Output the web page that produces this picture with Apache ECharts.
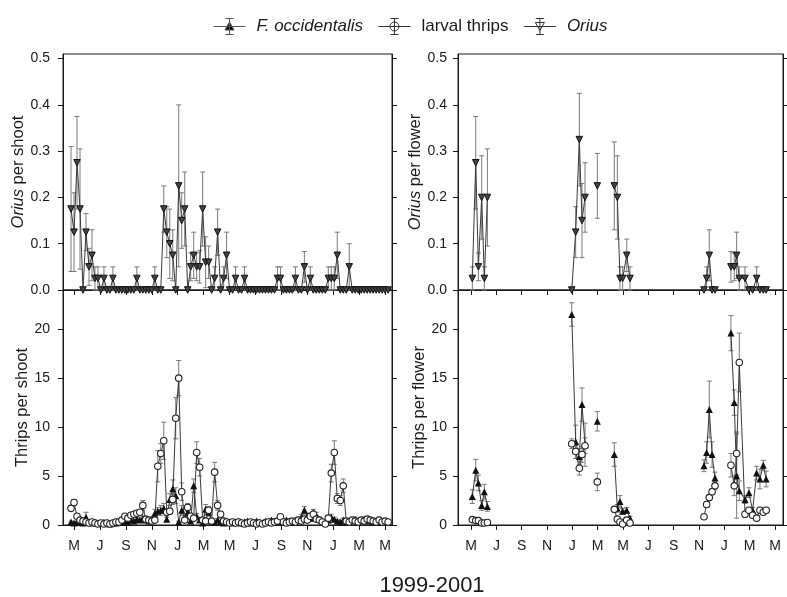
<!DOCTYPE html>
<html><head><meta charset="utf-8">
<script src="https://cdn.jsdelivr.net/npm/echarts@6/dist/echarts.min.js"></script>
<style>html,body{margin:0;padding:0;background:#fff}#c{width:787px;height:597px}</style>
</head><body><div id="c"></div>
<script>
// ---------- axis ticks ----------
const monthTicks = [0,2,4,6,8,10,12,14,16,18,20,22,24];           // months after May 1999
const monthLabels = ['M','J','S','N','J','M','M','J','S','N','J','M','M'];
const oriusTicks = [0,0.1,0.2,0.3,0.4,0.5];
const thripsTicks = [0,5,10,15,20];
const xTitle = '1999-2001';

// ---------- per-shoot data: weekly samples, first sample just before May 1999 ----------
const shootFirstMonth = -0.23;
const shootWeekMonths = 12/52;
const oriusShoot = [0.175,0.125,0.275,0.175,0,0.125,0.05,0.075,0.025,0.025,
 0,0.025,0,0,0.025,0,0,0,0,0,
 0,0,0.025,0,0,0,0,0,0.025,0,
 0,0.175,0.125,0.1,0.075,0,0.225,0.15,0.175,0,
 0.05,0.075,0.05,0.05,0.175,0.06,0.06,0,0.025,0.125,
 0,0.025,0.075,0,0,0.025,0,0,0.025,0,
 0,0,0,0,0,0,0,0,0,0.025,
 0.025,0,0,0,0,0.025,0,0,0.05,0,
 0.025,0,0,0,0,0,0.025,0.025,0.025,0.075,
 0,0,0,0.05,0,0,0,0,0,0,
 0,0,0,0,0,0,0];
const oriusShootErr = [0.135,0.085,0.1,0.13,0,0.04,0.04,0.055,0.025,0.025,
 0,0.025,0,0,0.025,0,0,0,0,0,
 0,0,0.025,0,0,0,0,0,0.025,0,
 0,0.05,0.055,0.075,0.055,0,0.175,0.06,0.08,0,
 0.03,0.05,0.03,0.035,0.08,0.055,0.035,0,0.025,0.05,
 0,0.025,0.05,0,0,0.025,0,0,0.025,0,
 0,0,0,0,0,0,0,0,0,0.025,
 0.025,0,0,0,0,0.025,0,0,0.033,0,
 0.025,0,0,0,0,0,0.025,0.025,0.025,0.05,
 0,0,0,0.05,0,0,0,0,0,0,
 0,0,0,0,0,0,0];
const foccShoot = [0.3,0.2,0.3,0.3,0.2,0.8,0.3,0.2,0.3,0.2,
 0.2,0.3,0.2,0.1,0.2,0.2,0.3,0.3,0.4,0.3,
 0.5,0.4,0.6,0.5,0.7,0.5,0.4,0.6,1.2,1.4,
 1.5,1.7,0.6,2.6,3.7,3.0,0.3,1.5,0.6,1.3,
 0.4,4.0,0.9,0.5,0.2,1.6,1.3,0.4,0.3,0.5,
 0.3,0.2,0.4,0.3,0.2,0.3,0.4,0.2,0.3,0.4,
 0.2,0.3,0.4,0.3,0.2,0.4,0.3,0.5,0.3,0.4,
 0.4,0.3,0.5,0.4,0.3,0.5,0.5,0.8,1.5,0.9,
 0.7,1.3,1.0,0.6,0.4,0.3,0.5,0.8,0.6,0.4,
 0.3,0.5,0.3,0.4,0.5,0.6,0.4,0.5,0.6,0.4,
 0.5,0.3,0.4,0.5,0.3,0.4,0.3];
const foccShootErr = [0.1,0.1,0.1,0.1,0.1,0.5,0.1,0.1,0.1,0.1,
 0.1,0.1,0.1,0.1,0.1,0.1,0.1,0.1,0.15,0.1,
 0.15,0.15,0.2,0.2,0.2,0.15,0.15,0.2,0.4,0.4,
 0.5,0.5,0.2,0.6,0.9,0.8,0.1,0.5,0.2,0.4,
 0.15,0.7,0.3,0.2,0.1,0.5,0.4,0.15,0.1,0.15,
 0.1,0.1,0.15,0.1,0.1,0.1,0.15,0.1,0.1,0.15,
 0.1,0.1,0.15,0.1,0.1,0.15,0.1,0.15,0.1,0.15,
 0.15,0.1,0.15,0.15,0.1,0.15,0.2,0.3,0.4,0.3,
 0.3,0.3,0.3,0.2,0.15,0.1,0.2,0.3,0.2,0.15,
 0.1,0.2,0.1,0.15,0.15,0.2,0.15,0.15,0.2,0.15,
 0.15,0.1,0.15,0.15,0.1,0.15,0.1];
const larvalShoot = [1.7,2.3,0.9,0.5,0.4,0.3,0.2,0.3,0.2,0.1,
 0.2,0.1,0.2,0.1,0.2,0.3,0.3,0.5,0.9,0.7,
 1.0,1.1,1.2,1.3,2.0,0.6,0.5,0.4,0.5,6.0,
 7.3,8.6,1.3,1.4,2.6,10.9,15.0,3.4,0.5,1.8,
 0.9,0.7,7.4,5.9,0.5,0.4,1.5,0.4,5.4,2.0,
 1.1,0.4,0.3,0.2,0.3,0.2,0.3,0.2,0.1,0.2,
 0.3,0.2,0.1,0.2,0.1,0.2,0.3,0.2,0.3,0.4,
 0.85,0.3,0.2,0.3,0.4,0.3,0.5,0.4,0.6,0.5,
 0.9,1.1,0.6,0.5,0.3,0.1,0.7,5.3,7.4,2.7,
 2.5,4.0,0.4,0.3,0.5,0.4,0.3,0.5,0.4,0.6,
 0.5,0.4,0.3,0.5,0.3,0.4,0.3];
const larvalShootErr = [0.3,0.3,0.2,0.15,0.1,0.1,0.1,0.1,0.1,0.1,
 0.1,0.1,0.1,0.1,0.1,0.1,0.1,0.15,0.2,0.2,
 0.2,0.2,0.2,0.25,0.5,0.2,0.15,0.15,0.2,1.6,
 1.0,1.9,0.3,0.3,0.5,2.1,1.8,0.9,0.2,0.4,
 0.3,0.2,1.1,0.9,0.2,0.15,0.4,0.2,1.0,0.5,
 0.3,0.15,0.1,0.1,0.1,0.1,0.1,0.1,0.1,0.1,
 0.1,0.1,0.1,0.1,0.1,0.1,0.1,0.1,0.1,0.15,
 0.2,0.1,0.1,0.1,0.15,0.1,0.15,0.15,0.2,0.2,
 0.3,0.3,0.2,0.2,0.1,0.1,0.2,0.9,1.2,0.5,
 0.5,0.7,0.2,0.1,0.15,0.15,0.1,0.15,0.15,0.2,
 0.15,0.15,0.1,0.15,0.1,0.15,0.1];

// ---------- per-flower data (null = no flowers, line break) ----------
const flowerMonth = [0.1,0.37,0.58,0.84,1.05,1.29, null, 7.95,8.26,8.55,8.76,9.0, null, 9.97, null,
 11.31,11.55,11.76,11.97,12.29,12.55, null, 18.39,18.6,18.81,19.03,19.26, null,
 20.52,20.78,20.97,21.18,21.63,21.94,22.23,22.55,22.81,23.07,23.3];
const oriusFlower = [0.025,0.275,0.05,0.2,0.025,0.2, null, 0,0.125,0.325,0.15,0.2, null, 0.225, null,
 0.225,0.2,0.025,0.025,0.075,0.025, null, 0,0.025,0.075,0,0, null,
 0.05,0.05,0.075,0.025,0.025,0,0,0.025,0,0,0];
const oriusFlowerErr = [0.025,0.1,0.03,0.09,0.025,0.105, null, 0,0.055,0.1,0.08,0.075, null, 0.07, null,
 0.095,0.09,0.025,0.025,0.035,0.025, null, 0,0.025,0.055,0,0, null,
 0.033,0.03,0.05,0.025,0.025,0,0,0.025,0,0,0];
const foccFlower = [2.9,5.6,4.3,2.0,3.4,1.9, null, 21.5,8.5,7.0,12.3,8.2, null, 10.6, null,
 7.2,1.7,2.4,1.4,1.5,0.7, null, 6.05,7.4,11.8,7.2,4.8, null,
 19.6,12.5,5.0,3.5,2.6,3.3,1.5,5.3,4.7,6.1,4.7];
const foccFlowerErr = [0.7,1.1,0.8,0.5,0.75,0.5, null, 1.2,1.7,0.8,1.7,2.2, null, 1.0, null,
 1.2,0.4,0.6,0.3,0.3,0.2, null, 0.6,1.1,2.9,1.3,0.6, null,
 1.8,1.3,4.3,1.0,0.4,0.5,0.3,0.7,1.0,0.5,0.8];
const larvalFlower = [0.55,0.45,0.45,0.2,0.2,0.25, null, 8.3,7.5,5.8,7.2,8.1, null, 4.4, null,
 1.6,0.6,0.3,0.1,0.5,0.2, null, 0.85,2.1,2.8,3.4,4.0, null,
 6.1,4.0,7.3,16.6,1.1,1.5,1.0,0.7,1.5,1.3,1.5];
const larvalFlowerErr = [0.1,0.1,0.1,0.1,0.1,0.1, null, 0.5,0.7,0.7,0.8,0.8, null, 0.9, null,
 0.3,0.2,0.1,0.1,0.2,0.1, null, 0.2,0.3,0.3,0.3,0.4, null,
 1.2,1.0,2.2,3.0,0.3,0.3,0.2,0.2,0.3,0.2,0.3];

// ---------- build ----------
const FONT = 'Liberation Sans';
const INK = '#1a1a1a';
const shootMonths = oriusShoot.map((_, i) => shootFirstMonth + i * shootWeekMonths);

function linePts(xs, ys) {
  return xs.map((x, i) => (x === null || ys[i] === null) ? ['-', '-'] : [x, ys[i]]);
}
function errPts(xs, ys, es) {
  const out = [];
  xs.forEach((x, i) => { if (x !== null && ys[i] !== null && es[i] > 0) out.push([x, ys[i], es[i]]); });
  return out;
}
function errRender(params, api) {
  const x = api.value(0), y = api.value(1), e = api.value(2);
  const lo = api.coord([x, Math.max(0, y - e)]), hi = api.coord([x, y + e]);
  const w = 2.5, st = { stroke: '#7a7a7a', lineWidth: 1 };
  return { type: 'group', children: [
    { type: 'line', shape: { x1: lo[0], y1: lo[1], x2: hi[0], y2: hi[1] }, style: st },
    { type: 'line', shape: { x1: hi[0] - w, y1: hi[1], x2: hi[0] + w, y2: hi[1] }, style: st },
    { type: 'line', shape: { x1: lo[0] - w, y1: lo[1], x2: lo[0] + w, y2: lo[1] }, style: st }
  ]};
}
const downTri = 'path://M0,0L10,0L5,9Z';
const styles = {
  'F. occidentalis': { symbol: 'triangle', symbolSize: 7, itemStyle: { color: '#111', borderWidth: 0 } },
  'larval thrips': { symbol: 'circle', symbolSize: 6.5, itemStyle: { color: '#fff', borderColor: '#222', borderWidth: 1.1 } },
  'Orius': { symbol: downTri, symbolSize: 6.5, itemStyle: { color: '#444', borderColor: '#111', borderWidth: 1 } }
};
function seriesPair(name, xs, ys, es, axisIdx) {
  const s = styles[name];
  return [
    { type: 'custom', name: name, xAxisIndex: axisIdx, yAxisIndex: axisIdx * 2, renderItem: errRender,
      data: errPts(xs, ys, es), encode: { x: 0, y: 1 }, z: 2, silent: true, clip: false },
    { type: 'line', name: name, xAxisIndex: axisIdx, yAxisIndex: axisIdx * 2, data: linePts(xs, ys),
      symbol: s.symbol, symbolSize: s.symbolSize, itemStyle: s.itemStyle, showSymbol: true,
      lineStyle: { color: '#3a3a3a', width: 1 }, connectNulls: false, animation: false, z: 3, clip: false }
  ];
}

const grids = [
  { left: 63, top: 54, width: 329, height: 236 },   // 0 orius shoot
  { left: 63, top: 290, width: 329, height: 235 },  // 1 thrips shoot
  { left: 458, top: 54, width: 325, height: 236 },  // 2 orius flower
  { left: 458, top: 290, width: 325, height: 235 }  // 3 thrips flower
].map(g => Object.assign(g, { show: true, borderColor: INK, borderWidth: 1, backgroundColor: 'transparent' }));

const xRanges = [[-0.85, 24.53], [-0.85, 24.53], [-1.03, 24.63], [-1.03, 24.63]];
const xAxes = xRanges.map((r, i) => ({
  type: 'value', gridIndex: i, min: r[0], max: r[1],
  axisLine: { show: true, onZero: false, lineStyle: { color: INK, width: 1 } },
  axisTick: { show: true, inside: false, length: 5, customValues: monthTicks, lineStyle: { color: INK } },
  axisLabel: { show: i === 1 || i === 3, customValues: monthTicks, margin: 14,
    formatter: v => monthLabels[monthTicks.indexOf(Math.round(v))] || '',
    fontFamily: FONT, fontSize: 14, color: INK },
  splitLine: { show: false }
}));

const yDefs = [
  { max: 0.51, ticks: oriusTicks, name: '{i|Orius} per shoot', fmt: v => v.toFixed(1), margin: 13, gap: 30 },
  { max: 24, ticks: thripsTicks, name: 'Thrips per shoot', fmt: v => String(v), margin: 13, gap: 30 },
  { max: 0.51, ticks: oriusTicks, name: '{i|Orius} per flower', fmt: v => v.toFixed(1), margin: 11, gap: 30 },
  { max: 24, ticks: thripsTicks, name: 'Thrips per flower', fmt: v => String(v), margin: 11, gap: 30 }
];
const yAxes = [];
yDefs.forEach((d, i) => {
  yAxes.push({
    type: 'value', gridIndex: i, min: 0, max: d.max, position: 'left',
    name: d.name, nameLocation: 'middle', nameGap: d.gap,
    nameTextStyle: { fontFamily: FONT, fontSize: 16.5, color: INK,
      rich: { i: { fontStyle: 'italic', fontFamily: FONT, fontSize: 16.5, color: INK } } },
    axisLine: { show: true, onZero: false, lineStyle: { color: INK } },
    axisTick: { show: true, inside: false, length: 5, customValues: d.ticks, lineStyle: { color: INK } },
    axisLabel: { show: true, customValues: d.ticks, formatter: d.fmt, margin: d.margin,
      fontFamily: FONT, fontSize: 14, color: INK },
    splitLine: { show: false }
  });
  yAxes.push({
    type: 'value', gridIndex: i, min: 0, max: d.max, position: 'right',
    axisLine: { show: true, onZero: false, lineStyle: { color: INK } },
    axisTick: { show: true, inside: false, length: 5, customValues: d.ticks, lineStyle: { color: INK } },
    axisLabel: { show: false }, splitLine: { show: false }
  });
});

const series = [].concat(
  seriesPair('Orius', shootMonths, oriusShoot, oriusShootErr, 0),
  seriesPair('F. occidentalis', shootMonths, foccShoot, foccShootErr, 1),
  seriesPair('larval thrips', shootMonths, larvalShoot, larvalShootErr, 1),
  seriesPair('Orius', flowerMonth, oriusFlower, oriusFlowerErr, 2),
  seriesPair('F. occidentalis', flowerMonth, foccFlower, foccFlowerErr, 3),
  seriesPair('larval thrips', flowerMonth, larvalFlower, larvalFlowerErr, 3)
);

const bar = 'M0,8L32,8M16,0L16,16M12,0L20,0M12,16L20,16';
const option = {
  animation: false,
  backgroundColor: '#fff',
  legend: {
    top: 13, left: 208, itemWidth: 32, itemHeight: 16, itemGap: 15, selectedMode: false,
    data: [
      { name: 'F. occidentalis', icon: 'path://' + bar + 'M11.5,11.5L16,3.5L20.5,11.5Z',
        itemStyle: { color: '#000', borderColor: '#555', borderWidth: 1 } },
      { name: 'larval thrips', icon: 'path://' + bar + 'M20.5,8A4.5,4.5,0,1,1,11.5,8A4.5,4.5,0,1,1,20.5,8Z',
        itemStyle: { color: '#fff', borderColor: '#333', borderWidth: 1 } },
      { name: 'Orius', icon: 'path://' + bar + 'M11.5,4L20.5,4L16,12Z',
        itemStyle: { color: '#fff', borderColor: '#333', borderWidth: 1 } }
    ],
    formatter: n => n === 'larval thrips' ? '{n|' + n + '}' : '{i|' + n + '}',
    textStyle: { fontFamily: FONT, fontSize: 17, color: INK, padding: [0, 0, 0, 6],
      rich: { i: { fontStyle: 'italic', fontFamily: FONT, fontSize: 17, color: INK },
              n: { fontFamily: FONT, fontSize: 17, color: INK } } }
  },
  grid: grids, xAxis: xAxes, yAxis: yAxes, series: series,
  graphic: [{ type: 'text', x: 432, y: 586,
    style: { text: xTitle, fontFamily: FONT, fontSize: 22, fill: INK, align: 'center', verticalAlign: 'middle' } }]
};
echarts.init(document.getElementById('c'), null, { renderer: 'canvas' }).setOption(option);
</script></body></html>
